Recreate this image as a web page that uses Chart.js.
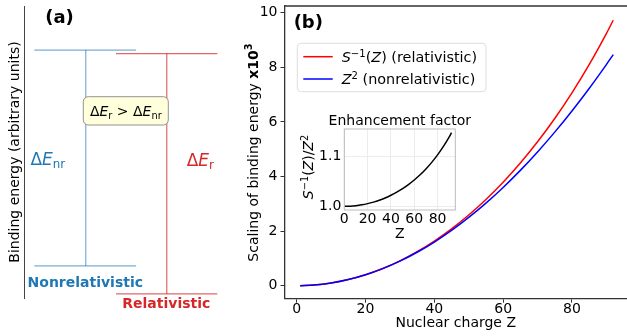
<!DOCTYPE html>
<html>
<head>
<meta charset="UTF-8">
<title>Binding energy scaling</title>
<script src="https://cdn.jsdelivr.net/npm/chart.js@4"></script>
<style>
  html, body { margin: 0; padding: 0; background: #fff; }
  #fig { position: relative; width: 627px; height: 336px; overflow: hidden; }
  canvas { position: absolute; }
  #cA { left: 0; top: 0; }
  #cB { left: 240px; top: 0; }
  #cI { left: 295px; top: 105px; }
</style>
</head>
<body>
<div id="fig">
  <canvas id="cA" width="240" height="336"></canvas>
  <canvas id="cB" width="387" height="336"></canvas>
  <canvas id="cI" width="210" height="140"></canvas>
</div>
<script>
// ---- panel (b): binding energy scaling, x10^3 ----
const zMain = [1, 5, 10, 15, 20, 25, 30, 35, 40, 45, 50, 55, 60, 65, 70, 75, 80, 85, 90, 92];
const nonrelScaling = [0.001, 0.025, 0.1, 0.225, 0.4, 0.625, 0.9, 1.225, 1.6, 2.025, 2.5, 3.025, 3.6, 4.225, 4.9, 5.625, 6.4, 7.225, 8.1, 8.464];
const relScaling = [0.001, 0.025, 0.1001, 0.2257, 0.4022, 0.6303, 0.9111, 1.2457, 1.6356, 2.0828, 2.5893, 3.1578, 3.7913, 4.4937, 5.270, 6.124, 7.0643, 8.098, 9.235, 9.722];
const mainXTicks = [0, 20, 40, 60, 80];
const mainYTicks = [0, 2, 4, 6, 8, 10];

// ---- inset: enhancement factor ----
const zInset = [0, 5, 10, 15, 20, 25, 30, 35, 40, 45, 50, 55, 60, 65, 70, 75, 80, 85, 90, 92];
const enhancement = [1.0, 1.0003, 1.0013, 1.0030, 1.0054, 1.0085, 1.0123, 1.0169, 1.0223, 1.0285, 1.0357, 1.0439, 1.0531, 1.0636, 1.0755, 1.0887, 1.1038, 1.1208, 1.1402, 1.1486];
const insetXTicks = [0, 20, 40, 60, 80];
const insetYTicks = [1.0, 1.1];

// ---- panel (a): schematic levels (arbitrary units) ----
const nrLevels = [8.49, 1.10];
const relLevels = [8.37, 0.14];
const nrBarX = [0.48, 5.19];
const relBarX = [4.26, 8.95];
const nrGapX = 2.86;
const relGapX = 6.61;

const FONT = "'DejaVu Sans', sans-serif";
Chart.defaults.font.family = FONT;
Chart.defaults.font.size = 14;
Chart.defaults.color = '#000';

const tabBlue = '#1f77b4';
const tabRed = '#d62728';

// draw text made of parts: [text, style]; style: i italic, b bold, ^ sup, _ sub
function rich(ctx, parts, x, y, size, align, color) {
  const fontFor = st => {
    const s = (st.includes('^') || st.includes('_')) ? size * 0.7 : size;
    return (st.includes('i') ? 'italic ' : '') + (st.includes('b') ? 'bold ' : '') + s + 'px ' + FONT;
  };
  let w = 0;
  parts.forEach(([t, st]) => { ctx.font = fontFor(st); w += ctx.measureText(t).width; });
  let cx = align === 'center' ? x - w / 2 : align === 'right' ? x - w : x;
  ctx.textAlign = 'left';
  ctx.textBaseline = 'alphabetic';
  ctx.fillStyle = color;
  parts.forEach(([t, st]) => {
    ctx.font = fontFor(st);
    const dy = st.includes('^') ? -size * 0.36 : st.includes('_') ? size * 0.2 : 0;
    ctx.fillText(t, cx, y + dy);
    cx += ctx.measureText(t).width;
  });
}

function rotRich(ctx, parts, x, y, size, color) {
  ctx.save();
  ctx.translate(x, y);
  ctx.rotate(-Math.PI / 2);
  rich(ctx, parts, 0, 0, size, 'center', color);
  ctx.restore();
}

function roundBox(ctx, x0, y0, x1, y1, r) {
  ctx.beginPath();
  ctx.moveTo(x0 + r, y0);
  ctx.arcTo(x1, y0, x1, y1, r);
  ctx.arcTo(x1, y1, x0, y1, r);
  ctx.arcTo(x0, y1, x0, y0, r);
  ctx.arcTo(x0, y0, x1, y0, r);
  ctx.closePath();
}

const pts = (xs, ys) => xs.map((x, i) => ({ x: x, y: ys[i] }));

// keep the plot box where matplotlib put it: no extra room for edge labels
const noEdgePad = s => { s.paddingTop = 0; s.paddingBottom = 0; s.paddingLeft = 0; s.paddingRight = 0; };

// ---------------- panel (a) ----------------
const segStyle = c => ({ showLine: true, pointRadius: 0, borderColor: c, borderWidth: 1.2 });
const blueLine = 'rgba(31,119,180,0.6)';
const redLine = 'rgba(214,39,40,0.7)';

const panelAText = {
  id: 'panelAText',
  afterDatasetsDraw(chart) {
    const ctx = chart.ctx;
    ctx.save();
    // comparison box
    roundBox(ctx, 83.3, 96.7, 168.3, 125, 5);
    ctx.fillStyle = '#ffffdc';
    ctx.fill();
    ctx.strokeStyle = '#777';
    ctx.lineWidth = 0.8;
    ctx.stroke();
    rich(ctx, [['Δ', ''], ['E', 'i'], ['r', '_'], [' > Δ', ''], ['E', 'i'], ['nr', '_']], 125.8, 116, 14, 'center', '#000');
    rich(ctx, [['Δ', ''], ['E', 'i'], ['nr', '_']], 47.8, 165, 17, 'center', tabBlue);
    rich(ctx, [['Δ', ''], ['E', 'i'], ['r', '_']], 200.3, 165.5, 17, 'center', tabRed);
    rich(ctx, [['Nonrelativistic', 'b']], 85.3, 286.7, 14, 'center', tabBlue);
    rich(ctx, [['Relativistic', 'b']], 166.3, 307.7, 14, 'center', tabRed);
    rich(ctx, [['(a)', 'b']], 59.5, 22.7, 18, 'center', '#000');
    ctx.restore();
  }
};

new Chart(document.getElementById('cA'), {
  type: 'scatter',
  data: {
    datasets: [
      { data: pts(nrBarX, [nrLevels[0], nrLevels[0]]), ...segStyle(blueLine) },
      { data: pts(nrBarX, [nrLevels[1], nrLevels[1]]), ...segStyle(blueLine) },
      { data: pts([nrGapX, nrGapX], nrLevels), ...segStyle(blueLine) },
      { data: pts(relBarX, [relLevels[0], relLevels[0]]), ...segStyle(redLine) },
      { data: pts(relBarX, [relLevels[1], relLevels[1]]), ...segStyle(redLine) },
      { data: pts([relGapX, relGapX], relLevels), ...segStyle(redLine) }
    ]
  },
  options: {
    responsive: false, animation: false, devicePixelRatio: 1,
    layout: { padding: { left: 0, top: 6, right: 0, bottom: 38 } },
    plugins: { legend: { display: false }, tooltip: { enabled: false } },
    scales: {
      x: { type: 'linear', display: false, min: 0, max: 10 },
      y: {
        type: 'linear', min: 0, max: 10,
        afterFit: s => { s.width = 24; noEdgePad(s); },
        ticks: { display: false },
        grid: { display: false, drawTicks: false },
        border: { display: true, color: '#444', width: 1 },
        title: { display: true, text: 'Binding energy (arbitrary units)', padding: { top: 6.6, bottom: 0 }, font: { size: 14 }, color: '#000' }
      }
    }
  },
  plugins: [panelAText]
});

// ---------------- panel (b) ----------------
const panelBExtras = {
  id: 'panelBExtras',
  afterDraw(chart) {
    const ctx = chart.ctx;
    const a = chart.chartArea;
    ctx.save();
    // top spine
    ctx.strokeStyle = '#333';
    ctx.lineWidth = 1.3;
    ctx.beginPath();
    ctx.moveTo(a.left, a.top);
    ctx.lineTo(a.right, a.top);
    ctx.stroke();
    // panel label
    rich(ctx, [['(b)', 'b']], 68.3, 28.4, 18, 'center', '#000');
    // legend
    roundBox(ctx, 57.3, 43.3, 246, 91.7, 4);
    ctx.fillStyle = 'rgba(255,255,255,0.85)';
    ctx.fill();
    ctx.strokeStyle = '#ddd';
    ctx.lineWidth = 1;
    ctx.stroke();
    const entries = [
      { c: '#ff0000', y: 56.7, parts: [['S', 'i'], ['−1', '^'], ['(', ''], ['Z', 'i'], [') (relativistic)', '']] },
      { c: '#0000ff', y: 79, parts: [['Z', 'i'], ['2', '^'], [' (nonrelativistic)', '']] }
    ];
    entries.forEach(e => {
      ctx.strokeStyle = e.c;
      ctx.lineWidth = 1.5;
      ctx.beginPath();
      ctx.moveTo(63.3, e.y);
      ctx.lineTo(92.7, e.y);
      ctx.stroke();
      rich(ctx, e.parts, 101.7, e.y + 5, 14.4, 'left', '#000');
    });
    // y axis title
    rotRich(ctx, [['Scaling of binding energy ', ''], ['x10', 'b'], ['3', 'b^']], 17.5, 152.5, 14, '#000');
    ctx.restore();
  }
};

new Chart(document.getElementById('cB'), {
  type: 'scatter',
  data: {
    datasets: [
      { label: 'Z^2 (nonrelativistic)', data: pts(zMain, nonrelScaling), showLine: true, pointRadius: 0, borderColor: '#0000ff', borderWidth: 1.5, cubicInterpolationMode: 'monotone' },
      { label: 'S^-1(Z) (relativistic)', data: pts(zMain, relScaling), showLine: true, pointRadius: 0, borderColor: '#ff0000', borderWidth: 1.5, cubicInterpolationMode: 'monotone' }
    ]
  },
  options: {
    responsive: false, animation: false, devicePixelRatio: 1,
    layout: { padding: { left: 0, top: 6, right: 0, bottom: 0 } },
    plugins: { legend: { display: false }, tooltip: { enabled: false } },
    scales: {
      x: {
        type: 'linear', min: -3.55, max: 96,
        afterBuildTicks: s => { s.ticks = mainXTicks.map(v => ({ value: v })); },
        afterFit: s => { s.height = 37.3; noEdgePad(s); },
        grid: { display: true, drawOnChartArea: false, drawTicks: true, tickLength: 4, color: '#333' },
        border: { display: true, color: '#333', width: 1.3 },
        ticks: { padding: -2, maxRotation: 0, color: '#000', font: { size: 14 } },
        title: { display: true, text: 'Nuclear charge Z', padding: { top: 0, bottom: 4.6 }, font: { size: 14 }, color: '#000' }
      },
      y: {
        type: 'linear', min: -0.476, max: 10.245,
        afterBuildTicks: s => { s.ticks = mainYTicks.map(v => ({ value: v })); },
        afterFit: s => { s.width = 44.5; noEdgePad(s); },
        grid: { display: true, drawOnChartArea: false, drawTicks: true, tickLength: 4, color: '#333' },
        border: { display: true, color: '#333', width: 1.3 },
        ticks: { padding: 3, color: '#000', font: { size: 14 } }
      }
    }
  },
  plugins: [panelBExtras]
});

// ---------------- inset ----------------
const insetExtras = {
  id: 'insetExtras',
  beforeDraw(chart) {
    const ctx = chart.ctx;
    const a = chart.chartArea;
    ctx.save();
    ctx.fillStyle = '#fff';
    ctx.fillRect(a.left, a.top, a.right - a.left, a.bottom - a.top);
    ctx.restore();
  },
  afterDraw(chart) {
    const ctx = chart.ctx;
    const a = chart.chartArea;
    ctx.save();
    ctx.strokeStyle = '#bbb';
    ctx.lineWidth = 1;
    ctx.strokeRect(a.left, a.top, a.right - a.left, a.bottom - a.top);
    ctx.font = '14px ' + FONT;
    ctx.fillStyle = '#000';
    ctx.textAlign = 'center';
    ctx.textBaseline = 'alphabetic';
    ctx.fillText('Enhancement factor', (a.left + a.right) / 2, 20);
    rotRich(ctx, [['S', 'i'], ['−1', '^'], ['(', ''], ['Z', 'i'], [')/', ''], ['Z', 'i'], ['2', '^']], 18, 62, 14, '#000');
    ctx.restore();
  }
};

new Chart(document.getElementById('cI'), {
  type: 'scatter',
  data: {
    datasets: [
      { data: pts(zInset, enhancement), showLine: true, pointRadius: 0, borderColor: '#000', borderWidth: 1.5, cubicInterpolationMode: 'monotone' }
    ]
  },
  options: {
    responsive: false, animation: false, devicePixelRatio: 1,
    layout: { padding: { left: 0, top: 24, right: 49.7, bottom: 0 } },
    plugins: { legend: { display: false }, tooltip: { enabled: false } },
    scales: {
      x: {
        type: 'linear', min: 0, max: 95.2,
        afterBuildTicks: s => { s.ticks = insetXTicks.map(v => ({ value: v })); },
        afterFit: s => { s.height = 35; noEdgePad(s); },
        grid: { display: true, drawTicks: false, color: '#ececec' },
        border: { display: false },
        ticks: { padding: 1, maxRotation: 0, color: '#000', font: { size: 14 } },
        title: { display: true, text: 'Z', padding: { top: 0, bottom: 2.3 }, font: { size: 14 }, color: '#000' }
      },
      y: {
        type: 'linear', min: 0.99257, max: 1.15603,
        afterBuildTicks: s => { s.ticks = insetYTicks.map(v => ({ value: v })); },
        afterFit: s => { s.width = 49.3; noEdgePad(s); },
        grid: { display: true, drawTicks: false, color: '#ececec' },
        border: { display: false },
        ticks: { padding: 3, color: '#000', font: { size: 14 }, callback: v => v.toFixed(1) }
      }
    }
  },
  plugins: [insetExtras]
});
</script>
</body>
</html>
